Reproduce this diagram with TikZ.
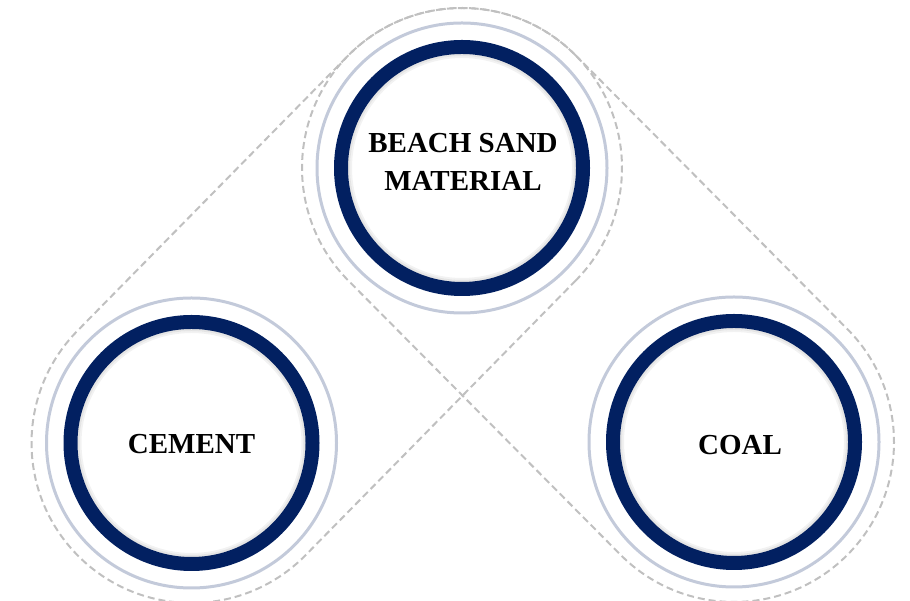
\documentclass[tikz,border=0pt]{standalone}
\usepackage{fontspec}
\setmainfont{Liberation Serif}
\usetikzlibrary{calc}
\definecolor{navy}{HTML}{022061}
\definecolor{ringgray}{HTML}{C3CADA}
\definecolor{dashgray}{HTML}{C0C0C0}
\begin{document}
\begin{tikzpicture}[x=1pt,y=1pt,
  capsule/.style={draw=dashgray, dash pattern=on 7pt off 4pt, line width=2pt},
  outerring/.style={circle, draw=ringgray, line width=3pt, minimum size=290pt, inner sep=0pt},
  mainring/.style={circle, draw=navy, line width=14pt, fill=white, minimum size=242pt, inner sep=0pt},
  innershade/.style={draw=black, line width=2pt},
  txt/.style={font=\bfseries\fontsize{29}{38}\selectfont, align=center, text=black}]
\useasboundingbox (0,0) rectangle (910,601);
\coordinate (cT) at (462,433);
\coordinate (cL) at (191.5,158);
\coordinate (cR) at (734,159);
% dashed capsules
\draw[capsule] ($(cT)+(315.47:160pt)$) -- ($(cL)+(315.47:160pt)$)
  arc[start angle=315.47, end angle=135.47, radius=160pt]
  -- ($(cT)+(135.47:160pt)$)
  arc[start angle=135.47, end angle=-44.53, radius=160pt] -- cycle;
\draw[capsule] ($(cT)+(44.79:160pt)$) -- ($(cR)+(44.79:160pt)$)
  arc[start angle=44.79, end angle=-135.21, radius=160pt]
  -- ($(cT)+(-135.21:160pt)$)
  arc[start angle=-135.21, end angle=-315.21, radius=160pt] -- cycle;
% circles
\foreach \c/\n in {cT/T, cL/L, cR/R}{
  \node[outerring] (o\n) at (\c) {};
  \node[mainring] (\n) at (\c) {};
  \draw[innershade, opacity=0.10] (\c) circle[radius=113pt];
  \draw[innershade, opacity=0.05] (\c) circle[radius=111pt];
}
\node[txt] (tT) at ($(cT)+(1,6)$) {BEACH SAND\\MATERIAL};
\node[txt] (tL) at ($(cL)+(0,-1)$) {CEMENT};
\node[txt] (tR) at ($(cR)+(6,-3)$) {COAL};
\end{tikzpicture}
\end{document}
